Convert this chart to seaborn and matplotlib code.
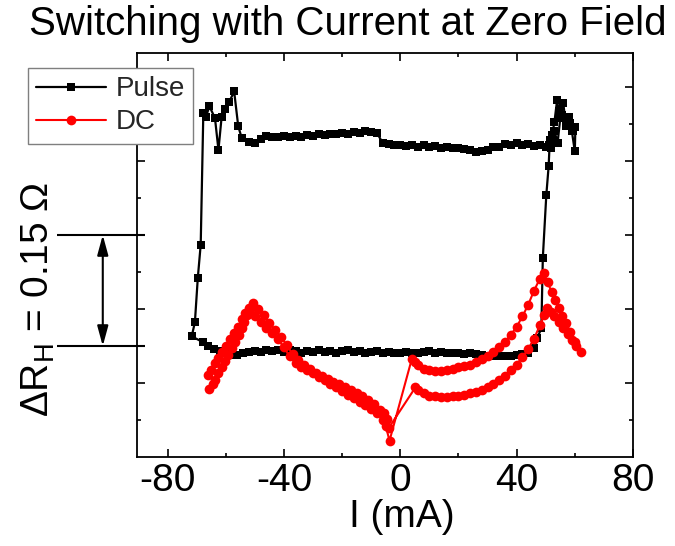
import matplotlib
matplotlib.use("Agg")
import matplotlib.pyplot as plt
import matplotlib.transforms as mtransforms
import pandas as pd
import seaborn as sns

# ---------------- data (I in mA, Hall resistance offset in ohm) ----------------
# Pulse switching loop, split into branches in sweep order
pulse_upper_i = [50, 48, 46, 44, 42, 40, 38, 36, 34, 32,
                 30, 28, 26, 24, 22, 20, 18, 16, 14, 12,
                 10, 8, 6, 4, 2, 0, -2, -4, -6, -8,
                 -10, -12, -14, -16, -18, -20, -22, -24, -26, -28,
                 -30, -32, -34, -36, -38, -40, -42, -44, -46, -48,
                 -50, -52]
pulse_upper_r = [0.419, 0.421, 0.420, 0.423, 0.422, 0.424, 0.421, 0.423, 0.419, 0.419,
                 0.415, 0.414, 0.412, 0.415, 0.416, 0.418, 0.417, 0.419, 0.418, 0.420,
                 0.419, 0.421, 0.419, 0.421, 0.420, 0.422, 0.421, 0.423, 0.424, 0.438,
                 0.439, 0.440, 0.438, 0.439, 0.437, 0.438, 0.436, 0.437, 0.435, 0.436,
                 0.434, 0.435, 0.433, 0.434, 0.433, 0.434, 0.432, 0.433, 0.434, 0.430,
                 0.424, 0.426]

pulse_left_i = [-54.5, -55.7, -57.1, -58.8, -60.2, -61.4, -62.5, -63.7, -65.6, -66.8,
                -67.7, -68.6, -69.6, -70.6, -71.7]
pulse_left_r = [0.431, 0.447, 0.494, 0.480, 0.470, 0.460, 0.415, 0.458, 0.474, 0.460,
                0.465, 0.287, 0.242, 0.182, 0.163]

pulse_lower_i = [-67.7, -66, -64, -62, -60, -58, -56, -54, -52, -50,
                 -48, -46, -44, -42, -40, -38, -36, -34, -32, -30,
                 -28, -26, -24, -22, -20, -18, -16, -14, -12, -10,
                 -8, -6, -4, -2, 0, 2, 4, 6, 8, 10,
                 12, 14, 16, 18, 20, 22, 24, 26, 28, 30,
                 32, 34, 36, 38, 40, 42, 44, 46, 47.1, 48.5]
pulse_lower_r = [0.155, 0.150, 0.146, 0.143, 0.140, 0.138, 0.138, 0.140, 0.142, 0.143,
                 0.142, 0.145, 0.143, 0.144, 0.142, 0.144, 0.143, 0.141, 0.143, 0.142,
                 0.144, 0.142, 0.143, 0.141, 0.143, 0.144, 0.142, 0.143, 0.141, 0.142,
                 0.143, 0.141, 0.142, 0.140, 0.141, 0.142, 0.140, 0.141, 0.142, 0.143,
                 0.141, 0.142, 0.140, 0.141, 0.140, 0.139, 0.140, 0.139, 0.138, 0.137,
                 0.136, 0.136, 0.137, 0.136, 0.138, 0.139, 0.141, 0.147, 0.161, 0.174]

pulse_right_i = [49.0, 50.2, 51.0, 51.4, 52.2, 53.0, 53.9, 54.5, 55.7, 56.9,
                 57.9, 58.5, 59.3, 60.2, 60.0, 59.0, 58.0, 57.0, 56.0, 55.0,
                 54.1, 53.0, 51.9, 51.0]
pulse_right_r = [0.269, 0.354, 0.393, 0.428, 0.435, 0.453, 0.482, 0.467, 0.462, 0.455,
                 0.460, 0.451, 0.440, 0.446, 0.413, 0.440, 0.452, 0.447, 0.479, 0.458,
                 0.425, 0.440, 0.417, 0.421]

# DC sweep, split into branches in sweep order
dc_neg_lower_tail_i = [-65.6, -64.5, -63.7, -62.5, -61.4, -60.2, -59.1, -58.0, -56.8, -55.6,
                       -54.5, -53.6, -52.8]
dc_neg_lower_tail_r = [0.0915, 0.098, 0.104, 0.113, 0.122, 0.130, 0.138, 0.147, 0.156, 0.165,
                       0.174, 0.183, 0.192]

dc_neg_lower_i = [-51.6, -50, -48, -46, -44, -42, -40, -38, -36, -34,
                  -32, -30, -28, -26, -24, -22, -20, -18, -16, -14,
                  -12, -10, -8, -6, -5, -3.7]
dc_neg_lower_r = [0.194, 0.190, 0.183, 0.174, 0.167, 0.159, 0.148, 0.136, 0.127, 0.122,
                  0.118, 0.113, 0.108, 0.104, 0.099, 0.094, 0.089, 0.084, 0.080, 0.075,
                  0.070, 0.065, 0.059, 0.050, 0.042, 0.022]

dc_pos_upper_i = [4.0, 5.0, 6.0, 8, 10, 12, 14, 16, 18, 20,
                  22, 24, 26, 28, 30, 32, 34, 36, 38, 40,
                  42, 44, 46, 48, 49.3]
dc_pos_upper_r = [0.133, 0.129, 0.125, 0.1195, 0.117, 0.1165, 0.1165, 0.1175, 0.119, 0.121,
                  0.1225, 0.125, 0.1285, 0.132, 0.137, 0.142, 0.148, 0.156, 0.165, 0.176,
                  0.190, 0.206, 0.225, 0.241, 0.248]

dc_pos_upper_tail_i = [50.7, 52.0, 53.1, 54.5, 55.7, 57.0, 58.5, 60.2, 62.0]
dc_pos_upper_tail_r = [0.236, 0.223, 0.212, 0.201, 0.190, 0.181, 0.169, 0.156, 0.142]

dc_pos_lower_tail_i = [60.5, 59.0, 57.5, 56.0, 54.5, 53.0, 51.7, 50.5]
dc_pos_lower_tail_r = [0.150, 0.158, 0.166, 0.174, 0.182, 0.190, 0.196, 0.201]

dc_pos_lower_i = [49.5, 48, 46, 44, 42, 40, 38, 36, 34, 32,
                  30, 28, 26, 24, 22, 20, 18, 16, 14, 12,
                  10, 8, 6, 5.2]
dc_pos_lower_r = [0.192, 0.178, 0.160, 0.146, 0.135, 0.125, 0.117, 0.110, 0.104, 0.099,
                  0.095, 0.091, 0.088, 0.086, 0.084, 0.083, 0.082, 0.0815, 0.0815, 0.082,
                  0.083, 0.086, 0.090, 0.094]

dc_neg_upper_i = [-4.0, -4.6, -5.7, -7, -9, -11, -13, -15, -17, -19,
                  -21, -23, -25, -27, -29, -31, -33, -35, -37, -39,
                  -41, -43, -45, -47, -49, -50.7]
dc_neg_upper_r = [0.039, 0.052, 0.059, 0.064, 0.072, 0.077, 0.082, 0.086, 0.090, 0.094,
                  0.098, 0.101, 0.105, 0.110, 0.114, 0.119, 0.124, 0.131, 0.139, 0.151,
                  0.162, 0.171, 0.181, 0.192, 0.200, 0.208]

dc_neg_upper_tail_i = [-52.0, -53.4, -54.5, -55.7, -57.0, -58.5, -60.0, -61.4, -62.5, -63.7,
                       -65.0, -66.0]
dc_neg_upper_tail_r = [0.201, 0.194, 0.186, 0.176, 0.168, 0.160, 0.150, 0.142, 0.134, 0.127,
                       0.118, 0.111]

x_ticks = [-80, -40, 0, 40, 80]
x_tick_labels = ["-80", "-40", "0", "40", "80"]
x_minor_ticks = [-60, -20, 20, 60]

scale_bar_base = 0.15      # ohm
scale_bar_height = 0.15    # ohm

# ---------------- assemble ----------------
def branch(i, r):
    assert len(i) == len(r)
    return pd.DataFrame({"I": i, "R": r})

pulse = pd.concat([
    branch(pulse_upper_i, pulse_upper_r),
    branch(pulse_left_i, pulse_left_r),
    branch(pulse_lower_i, pulse_lower_r),
    branch(pulse_right_i, pulse_right_r),
], ignore_index=True)

dc = pd.concat([
    branch(dc_neg_lower_tail_i, dc_neg_lower_tail_r),
    branch(dc_neg_lower_i, dc_neg_lower_r),
    branch(dc_pos_upper_i, dc_pos_upper_r),
    branch(dc_pos_upper_tail_i, dc_pos_upper_tail_r),
    branch(dc_pos_lower_tail_i, dc_pos_lower_tail_r),
    branch(dc_pos_lower_i, dc_pos_lower_r),
    branch(dc_neg_upper_i, dc_neg_upper_r),
    branch(dc_neg_upper_tail_i, dc_neg_upper_tail_r),
], ignore_index=True)

# ---------------- style ----------------
sns.set_style("ticks")
plt.rcParams["font.family"] = ["Liberation Sans", "DejaVu Sans"]
plt.rcParams["axes.unicode_minus"] = False
plt.rcParams["mathtext.fontset"] = "custom"
plt.rcParams["mathtext.rm"] = "Liberation Sans"
plt.rcParams["mathtext.it"] = "Liberation Sans:italic"

W, H = 675, 546
fig = plt.figure(figsize=(W / 100, H / 100), dpi=100)
ax = fig.add_axes([137 / W, 89 / H, 496 / W, 404 / H])

sns.lineplot(data=pulse, x="I", y="R", sort=False, estimator=None, ax=ax,
             color="black", linewidth=1.6, marker="s", markersize=5.8,
             markeredgewidth=0, label="Pulse", zorder=3)
sns.lineplot(data=dc, x="I", y="R", sort=False, estimator=None, ax=ax,
             color="#ff0000", linewidth=1.5, marker="o", markersize=7.0,
             markeredgewidth=0, label="DC", zorder=4)

# axes frame and ticks
for s in ax.spines.values():
    s.set_linewidth(1.3)
    s.set_color("black")
ax.set_xticks(x_ticks)
ax.set_xticklabels(x_tick_labels)
ax.set_xticks(x_minor_ticks, minor=True)
ax.set_yticks([0.1, 0.2, 0.3, 0.4, 0.5])
ax.set_yticks([0.05, 0.15, 0.25, 0.35, 0.45], minor=True)
ax.tick_params(which="both", direction="in", top=True, right=True,
               labelleft=False, width=1.2, color="black")
ax.tick_params(which="major", length=6)
ax.tick_params(which="minor", length=3)
ax.tick_params(axis="x", labelsize=28, pad=4, labelcolor="black")

ax.set_xlabel("I (mA)", fontsize=28, color="black")
ax.xaxis.set_label_coords(0.534, -0.105)
ax.set_ylabel("")

# scale bar for the Hall resistance change
trans = mtransforms.blended_transform_factory(ax.transAxes, ax.transData)
bar_top = scale_bar_base + scale_bar_height
for yv in (scale_bar_base, bar_top):
    ax.plot([-0.161, 0.016], [yv, yv], transform=trans, color="black",
            lw=1.5, clip_on=False, solid_capstyle="butt")
ax.annotate("", xy=(-0.069, scale_bar_base), xytext=(-0.069, bar_top),
            xycoords=trans, textcoords=trans, annotation_clip=False,
            arrowprops=dict(arrowstyle="<|-|>,head_length=0.55,head_width=0.15",
                            color="black", lw=1.5, shrinkA=0, shrinkB=0,
                            mutation_scale=22))
fig.text(38 / W, 1 - 299 / H,
         "ΔR$_\\mathrm{H}$ = " + f"{scale_bar_height:.2f}" + " Ω",
         rotation=90, ha="center", va="center", fontsize=28, color="black")

ax.set_xlim(-90.5, 80)
ax.set_ylim(0, 0.546)

# legend
handles, labels = ax.get_legend_handles_labels()
leg = ax.legend(handles, labels, loc="upper left",
                bbox_to_anchor=(28 / W, 1 - 68 / H), bbox_transform=fig.transFigure,
                borderaxespad=0, fancybox=False, framealpha=1, edgecolor="#7f7f7f",
                fontsize=20, handlelength=2.5, handletextpad=0.35,
                borderpad=0.3, labelspacing=0.25)
leg.get_frame().set_linewidth(1.0)

fig.text(348 / W, 1 - 24 / H, "Switching with Current at Zero Field",
         ha="center", va="center", fontsize=29, color="black")

fig.savefig("out.png", dpi=100)
